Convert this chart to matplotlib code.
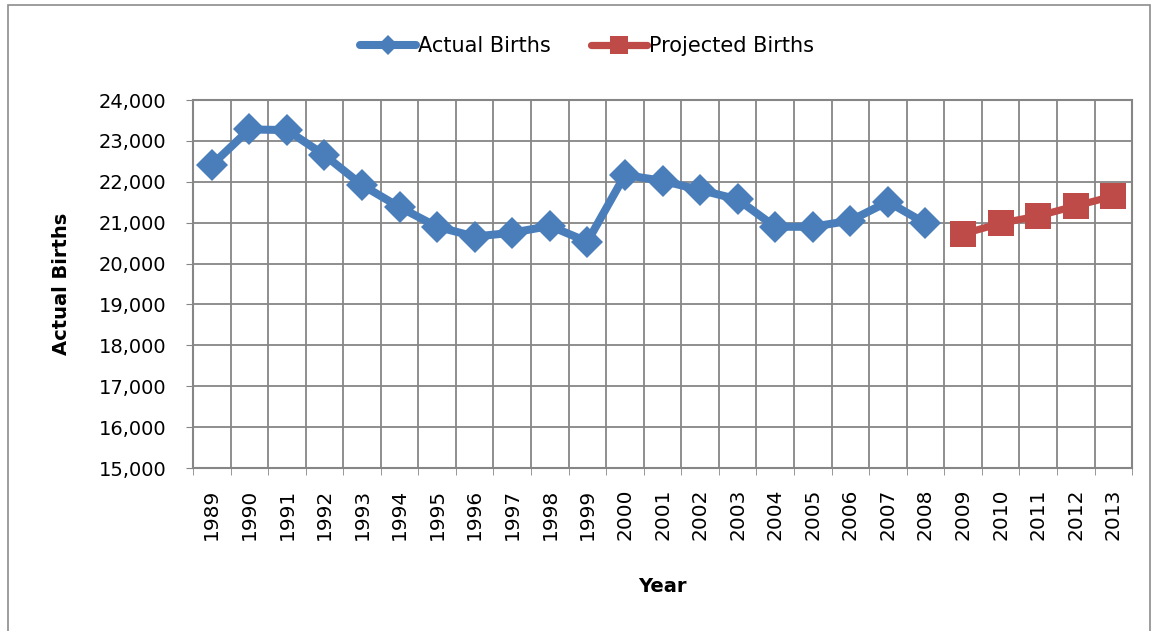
import numpy as np
import matplotlib
matplotlib.use('Agg')
import matplotlib.pyplot as plt
from matplotlib.patches import Rectangle
from matplotlib.ticker import FuncFormatter

years = [str(y) for y in range(1989, 2014)]
actual_years = years[:20]  # 1989-2008
actual_births = [22410, 23280, 23265, 22655, 21920, 21380, 20900, 20660, 20755, 20920,
                 20535, 22165, 22025, 21800, 21570, 20900, 20900, 21050, 21510, 20985]
projected_years = years[20:]  # 2009-2013
projected_births = [20725, 20985, 21165, 21410, 21650]

blue = '#4a7ebb'
red = '#be4b48'
grid_col = '#868686'

plt.rcParams['font.family'] = ['DejaVu Sans']

fig = plt.figure(figsize=(11.54, 6.31), dpi=100)
ax = fig.add_axes([0.1672, 0.2583, 0.8138, 0.5832])

x_all = np.arange(len(years))
xa = x_all[:len(actual_years)]
xp = x_all[len(actual_years):]

ax.plot(xa, actual_births, color=blue, lw=5.8, marker='D', ms=16, mew=0,
        solid_joinstyle='round', solid_capstyle='round', label='Actual Births', zorder=3)
ax.plot(xp, projected_births, color=red, lw=5.2, marker='s', ms=19, mew=0,
        solid_joinstyle='round', solid_capstyle='round', label='Projected Births', zorder=3)

ax.set_xlim(-0.5, len(years) - 0.5)
ax.set_ylim(15000, 24000)
ax.set_yticks(np.arange(15000, 24001, 1000))
ax.yaxis.set_major_formatter(FuncFormatter(lambda v, p: f'{int(v):,}'))
ax.set_xticks(x_all)
ax.set_xticklabels(years, rotation=90)
ax.set_xticks(np.arange(-0.5, len(years), 1.0), minor=True)

ax.grid(True, which='major', axis='y', color=grid_col, lw=1.3)
ax.grid(True, which='minor', axis='x', color=grid_col, lw=1.3)
ax.set_axisbelow(True)
for s in ax.spines.values():
    s.set_color(grid_col)
    s.set_linewidth(1.5)

ax.tick_params(axis='y', which='major', length=5, color=grid_col, pad=14, labelsize=14)
ax.tick_params(axis='x', which='major', length=0, pad=15, labelsize=14.5)
ax.tick_params(axis='x', which='minor', length=5, color=grid_col)

ax.set_ylabel('Actual Births', fontsize=14, fontweight='bold')
ax.yaxis.set_label_coords(-0.13, 0.5)
ax.set_xlabel('Year', fontsize=14, fontweight='bold')
ax.xaxis.set_label_coords(0.5, -0.295)

fig.legend(loc='center', bbox_to_anchor=(0.5087, 0.927), ncol=2, frameon=False,
           fontsize=15, handlelength=2.7, columnspacing=1.9, handletextpad=0.1,
           markerscale=0.65)

fig.patches.append(Rectangle((8 / 1154, -0.02), (1150 - 8) / 1154, 1 - 5 / 631 + 0.02,
                             transform=fig.transFigure, fill=False, ec='#8c8c8c', lw=1.2))

fig.savefig('out.png', dpi=100)
